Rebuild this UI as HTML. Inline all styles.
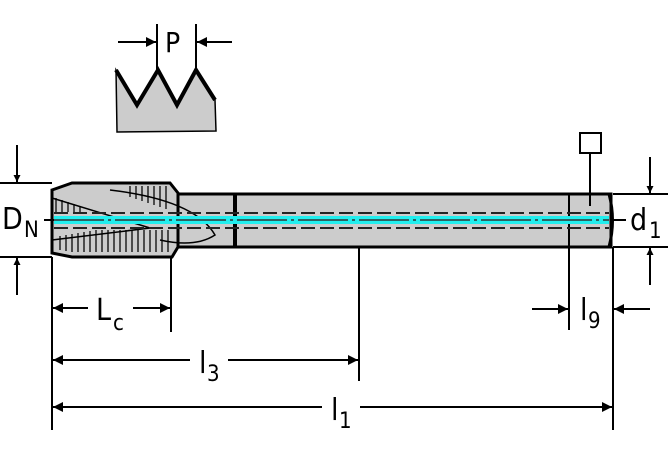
<!DOCTYPE html>
<html><head><style>html,body{margin:0;padding:0;background:#fff}svg{display:block}</style></head>
<body>
<svg width="670" height="460" viewBox="0 0 670 460" xmlns="http://www.w3.org/2000/svg" font-family="DejaVu Sans Condensed, DejaVu Sans, Liberation Sans, sans-serif">
<defs>
<marker id="a" viewBox="0 0 10 10" refX="10" refY="5" markerWidth="10" markerHeight="7" orient="auto-start-reverse" markerUnits="userSpaceOnUse"><path d="M0,0L10,5L0,10z" fill="#000"/></marker>
<marker id="b" viewBox="0 0 10 10" refX="10" refY="5" markerWidth="20" markerHeight="10" orient="auto-start-reverse" markerUnits="userSpaceOnUse"><path d="M0,0L10,5L0,10z" fill="#000"/></marker>
</defs>
<!-- thread profile -->
<path d="M116,70 L137,105 L158,70 L177,105 L196,70 L215,100 L216,131 L117,132 Z" fill="#ccc" stroke="#000" stroke-width="1.5"/>
<path d="M116,70 L137,105 L158,70 L177,105 L196,70 L215,100" fill="none" stroke="#000" stroke-width="4"/>
<line x1="157" y1="24" x2="157" y2="70" stroke="#000" stroke-width="2"/>
<line x1="196" y1="24" x2="196" y2="70" stroke="#000" stroke-width="2"/>
<line x1="118" y1="42" x2="156" y2="42" stroke="#000" stroke-width="2" marker-end="url(#b)"/>
<line x1="232" y1="42" x2="197" y2="42" stroke="#000" stroke-width="2" marker-end="url(#b)"/>
<text x="165" y="52" font-size="28">P</text>
<!-- shank -->
<rect x="175" y="194" width="436" height="53" fill="#ccc" stroke="#000" stroke-width="3"/>
<path d="M609,194 Q616,220 609,247" fill="none" stroke="#000" stroke-width="3"/>
<line x1="235" y1="194" x2="235" y2="247" stroke="#000" stroke-width="4"/>
<line x1="569" y1="194" x2="569" y2="247" stroke="#000" stroke-width="2"/>
<!-- head -->
<path d="M52,190 L72,183 L170,183 L178,193 L178,247 L172,257 L72,257 L52,253 Z" fill="#ccc" stroke="#000" stroke-width="3"/>
<g stroke="#222" stroke-width="1.5">
<path d="M56,198 L56,212 M62,200 L62,212 M68,202 L68,212 M74,204 L74,212 M80,206 L80,213"/>
<path d="M60,236 L60,250 M66,235 L66,251 M72,234 L72,252 M78,233 L78,252 M84,232 L84,252 M90,231 L90,252 M96,230 L96,252 M102,230 L102,252 M108,230 L108,252 M114,230 L114,252 M120,230 L120,252 M126,230 L126,252 M132,230 L132,252 M138,230 L138,252 M144,230 L144,252 M150,230 L150,252 M156,230 L156,252 M162,230 L162,252 M168,230 L168,252"/>
<path d="M130,186 L130,197 M136,186 L136,199 M142,186 L142,201 M148,186 L148,203 M154,186 L154,205 M160,186 L160,207 M166,186 L166,209"/>
</g>
<path d="M52,198 L150,228 L52,240" fill="none" stroke="#000" stroke-width="1.5"/>
<path d="M110,190 Q195,200 215,235 Q195,248 160,240" fill="none" stroke="#000" stroke-width="1.5"/>
<!-- centerline -->
<line x1="54" y1="220" x2="609" y2="220" stroke="#2ee" stroke-width="8"/>
<line x1="54" y1="213" x2="609" y2="213" stroke="#222" stroke-width="2" stroke-dasharray="14,5"/>
<line x1="54" y1="228" x2="609" y2="228" stroke="#222" stroke-width="2" stroke-dasharray="14,5"/>
<line x1="54" y1="220" x2="609" y2="220" stroke="#333" stroke-width="1.5" stroke-dasharray="50,4,3,4"/>
<!-- square -->
<rect x="580" y="133" width="21" height="20" fill="#fff" stroke="#000" stroke-width="2"/>
<line x1="590" y1="153" x2="590" y2="206" stroke="#000" stroke-width="2"/>
<!-- DN dims -->
<line x1="0" y1="183" x2="52" y2="183" stroke="#000" stroke-width="2"/>
<line x1="0" y1="257" x2="52" y2="257" stroke="#000" stroke-width="2"/>
<line x1="17" y1="145" x2="17" y2="182" stroke="#000" stroke-width="2" marker-end="url(#a)"/>
<line x1="17" y1="295" x2="17" y2="258" stroke="#000" stroke-width="2" marker-end="url(#a)"/>
<text x="2" y="229" font-size="30">D</text><text x="24" y="237" font-size="22">N</text>
<line x1="44" y1="220" x2="54" y2="220" stroke="#000" stroke-width="2"/>
<!-- d1 dims -->
<line x1="613" y1="194" x2="668" y2="194" stroke="#000" stroke-width="2"/>
<line x1="613" y1="247" x2="668" y2="247" stroke="#000" stroke-width="2"/>
<line x1="650" y1="157" x2="650" y2="193" stroke="#000" stroke-width="2" marker-end="url(#a)"/>
<line x1="650" y1="285" x2="650" y2="248" stroke="#000" stroke-width="2" marker-end="url(#a)"/>
<line x1="613" y1="220" x2="626" y2="220" stroke="#000" stroke-width="2"/>
<text x="630" y="230" font-size="30">d</text><text x="649" y="238" font-size="22">1</text>
<!-- verticals -->
<line x1="52" y1="257" x2="52" y2="430" stroke="#000" stroke-width="2"/>
<line x1="171" y1="257" x2="171" y2="332" stroke="#000" stroke-width="2"/>
<line x1="359" y1="247" x2="359" y2="381" stroke="#000" stroke-width="2"/>
<line x1="569" y1="247" x2="569" y2="330" stroke="#000" stroke-width="2"/>
<line x1="613" y1="247" x2="613" y2="430" stroke="#000" stroke-width="2"/>
<!-- Lc -->
<line x1="88" y1="308" x2="53" y2="308" stroke="#000" stroke-width="2" marker-end="url(#b)"/>
<line x1="133" y1="308" x2="170" y2="308" stroke="#000" stroke-width="2" marker-end="url(#b)"/>
<text x="96" y="320" font-size="30">L</text><text x="113" y="330" font-size="22">c</text>
<!-- l3 -->
<line x1="190" y1="360" x2="53" y2="360" stroke="#000" stroke-width="2" marker-end="url(#b)"/>
<line x1="228" y1="360" x2="358" y2="360" stroke="#000" stroke-width="2" marker-end="url(#b)"/>
<text x="199" y="373" font-size="30">l</text><text x="207" y="381" font-size="22">3</text>
<!-- l1 -->
<line x1="322" y1="407" x2="53" y2="407" stroke="#000" stroke-width="2" marker-end="url(#b)"/>
<line x1="360" y1="407" x2="612" y2="407" stroke="#000" stroke-width="2" marker-end="url(#b)"/>
<text x="331" y="420" font-size="30">l</text><text x="339" y="428" font-size="22">1</text>
<!-- l9 -->
<line x1="532" y1="309" x2="568" y2="309" stroke="#000" stroke-width="2" marker-end="url(#b)"/>
<line x1="650" y1="309" x2="614" y2="309" stroke="#000" stroke-width="2" marker-end="url(#b)"/>
<text x="580" y="320" font-size="30">l</text><text x="588" y="328" font-size="22">9</text>
</svg>
</body></html>
